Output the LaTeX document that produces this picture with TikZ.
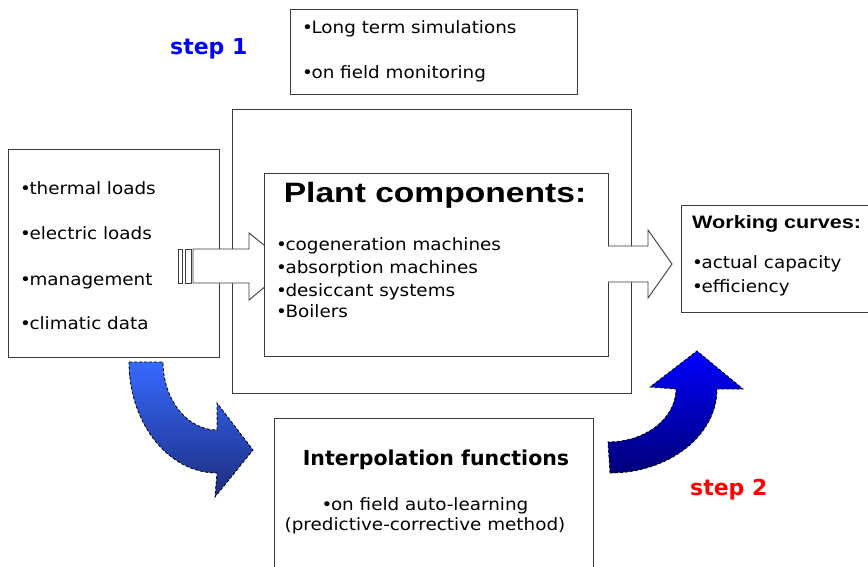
\documentclass[tikz,border=0pt]{standalone}
\usepackage{fontspec}
\setmainfont{DejaVu Sans}[FakeStretch=1.08]
\newfontfamily\arialb{Liberation Sans}[FakeStretch=1.2]
\newfontfamily\verd{DejaVu Sans}
\newcommand\mybul{•\kern-1.5pt}
\definecolor{lblueA}{RGB}{55,105,255}
\definecolor{lblueB}{RGB}{28,45,125}
\definecolor{dblueA}{RGB}{0,0,255}
\definecolor{dblueB}{RGB}{0,0,120}
\definecolor{edge}{RGB}{60,60,60}
\begin{document}
\begin{tikzpicture}[x=1pt,y=-1pt,
  box/.style={draw=edge, line width=0.9pt, inner sep=0pt, anchor=north west, fill=white},
  txt/.style={anchor=base west, inner sep=0pt, font=\fontsize{17}{20}\selectfont},
  ctxt/.style={anchor=base, inner sep=0pt, font=\fontsize{17}{20}\selectfont},
  blockarrow/.style={draw=edge, line width=0.9pt, fill=white, line join=miter},
  curvearrow/.style={draw=black, line width=0.8pt, dash pattern=on 3pt off 2pt},
  steplabel/.style={anchor=base west, inner sep=0pt, font=\verd\bfseries\fontsize{22}{26}\selectfont}
]
\useasboundingbox (0,0) rectangle (868,567);
\clip (0,0) rectangle (868,567);
\fill[white] (0,0) rectangle (868,567);

% boxes
\node[box, minimum width=287pt, minimum height=85pt] (top) at (290,9) {};
\node[box, minimum width=399pt, minimum height=284pt] (outer) at (232,109) {};
\node[box, minimum width=211pt, minimum height=208pt] (left) at (8,149) {};
\node[box, minimum width=200pt, minimum height=107pt] (right) at (681,205) {};
\node[box, minimum width=319pt, minimum height=170pt] (bottom) at (274,418) {};

% left block arrow with stripes (its tip lies behind the inner box)
\draw[blockarrow] (178,249) rectangle (182.5,283);
\draw[blockarrow] (185,249) rectangle (191,283);
\draw[blockarrow] (193,249) -- (249,249) -- (249,233) -- (290,266) -- (249,300) -- (249,283) -- (193,283) -- cycle;

\node[box, minimum width=344pt, minimum height=183pt] (inner) at (264,173) {};

% right block arrow
\draw[blockarrow] (608,246) -- (648,246) -- (648,230) -- (672,264) -- (648,298) -- (648,282) -- (608,282);

% curved arrow left (down-right)
\path[curvearrow, top color=lblueA, bottom color=lblueB]
  (129,362) -- (163,362)
  .. controls (163,399.6) and (187.2,430) .. (217,430)
  -- (217,403) -- (253,450) -- (215,497) -- (217,473)
  .. controls (168.4,473) and (129,423.3) .. (129,362) -- cycle;

% curved arrow right (up)
\path[curvearrow, top color=dblueA, bottom color=dblueB]
  (610,473) -- (608,442)
  .. controls (645.6,442) and (676,418.3) .. (676,389)
  -- (650,387) -- (697,351) -- (743,389) -- (717,389)
  .. controls (717,435.4) and (669.1,473) .. (610,473) -- cycle;

% texts
\node[steplabel, text=blue] (s1) at (170,55) {step 1};
\node[steplabel, text=red] (s2) at (690,495) {step 2};

\node[txt] (t1) at (302,34) {\mybul Long term simulations};
\node[txt] (t2) at (302,79) {\mybul on field monitoring};

\node[txt] (l1) at (20,195) {\mybul thermal loads};
\node[txt] (l2) at (20,240) {\mybul electric loads};
\node[txt] (l3) at (20,285) {\mybul management};
\node[txt] (l4) at (20,329) {\mybul climatic data};

\node[anchor=base, inner sep=0pt, font=\arialb\bfseries\fontsize{28}{32}\selectfont] (ph) at (435,202) {Plant components:};
\node[txt] (p1) at (276,250) {\mybul cogeneration machines};
\node[txt] (p2) at (276,273) {\mybul absorption machines};
\node[txt] (p3) at (276,296) {\mybul desiccant systems};
\node[txt] (p4) at (276,317) {\mybul Boilers};

\node[anchor=base west, inner sep=0pt, font=\arialb\bfseries\fontsize{18}{22}\selectfont] (wh) at (692,228) {Working curves:};
\node[txt] (w1) at (692,268) {\mybul actual capacity};
\node[txt] (w2) at (692,292) {\mybul efficiency};

\node[anchor=base, inner sep=0pt, font=\verd\bfseries\fontsize{20.5}{24}\selectfont] (ih) at (436,465) {Interpolation functions};
\node[ctxt] (i1) at (425,510) {\mybul on field auto-learning};
\node[ctxt] (i2) at (425,530) {(predictive-corrective method)};
\end{tikzpicture}
\end{document}
